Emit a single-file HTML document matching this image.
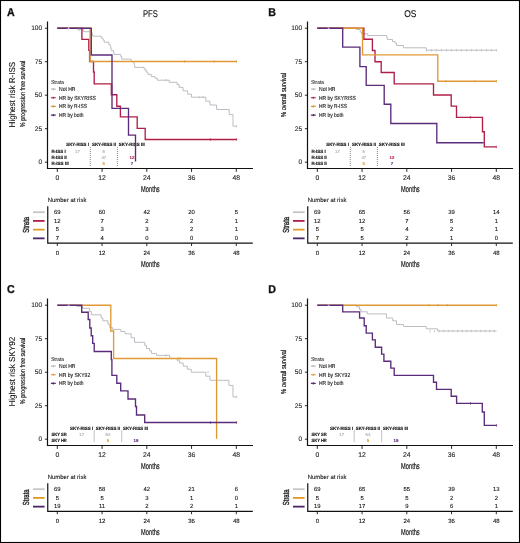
<!DOCTYPE html>
<html><head><meta charset="utf-8"><title>Survival curves</title>
<style>html,body{margin:0;padding:0;background:#fff;}svg{display:block;will-change:transform;}text{font-family:"Liberation Sans", sans-serif;text-rendering:geometricPrecision;}</style>
</head><body>
<svg width="520" height="543" viewBox="0 0 520 543" font-family='"Liberation Sans", sans-serif' fill="#111">
<rect x="0" y="0" width="520" height="543" fill="#fff"/>
<g transform="translate(0,0)">
<text x="7.00" y="16.30" font-size="11.4" text-anchor="start" stroke="#111" stroke-width="0.3" font-weight="bold" textLength="7.7" lengthAdjust="spacingAndGlyphs">A</text>
<text x="150.40" y="16.60" font-size="9.8" text-anchor="middle" stroke="#111" stroke-width="0.1" textLength="14.9" lengthAdjust="spacingAndGlyphs">PFS</text>
<text transform="translate(14.60,94.60) rotate(-90)" font-size="8.6" text-anchor="middle" stroke="#111" stroke-width="0.08" textLength="65.6" lengthAdjust="spacingAndGlyphs">Highest risk R-ISS</text>
<text transform="translate(24.90,94.00) rotate(-90)" font-size="7.0" text-anchor="middle" stroke="#111" stroke-width="0.16" textLength="66.5" lengthAdjust="spacingAndGlyphs">% progression free survival</text>
<path d="M47.5,21.5V169.1M46.9,168.5H253" stroke="#111" stroke-width="1.2" fill="none"/>
<text x="42.20" y="164.10" font-size="6.6" text-anchor="end" stroke="#222" stroke-width="0.1" fill="#222">0</text>
<text x="42.20" y="130.60" font-size="6.6" text-anchor="end" stroke="#222" stroke-width="0.1" fill="#222">25</text>
<text x="42.20" y="97.10" font-size="6.6" text-anchor="end" stroke="#222" stroke-width="0.1" fill="#222">50</text>
<text x="42.20" y="63.60" font-size="6.6" text-anchor="end" stroke="#222" stroke-width="0.1" fill="#222">75</text>
<text x="42.20" y="30.10" font-size="6.6" text-anchor="end" stroke="#222" stroke-width="0.1" fill="#222">100</text>
<text x="57.30" y="180.20" font-size="6.8" text-anchor="middle" stroke="#222" stroke-width="0.1" fill="#222">0</text>
<text x="102.05" y="180.20" font-size="6.8" text-anchor="middle" stroke="#222" stroke-width="0.1" fill="#222">12</text>
<text x="146.80" y="180.20" font-size="6.8" text-anchor="middle" stroke="#222" stroke-width="0.1" fill="#222">24</text>
<text x="191.55" y="180.20" font-size="6.8" text-anchor="middle" stroke="#222" stroke-width="0.1" fill="#222">36</text>
<text x="236.30" y="180.20" font-size="6.8" text-anchor="middle" stroke="#222" stroke-width="0.1" fill="#222">48</text>
<path d="M44.9,162.20H47.5M44.9,128.70H47.5M44.9,95.20H47.5M44.9,61.70H47.5M44.9,28.20H47.5M57.30,168.5V171.9M102.05,168.5V171.9M146.80,168.5V171.9M191.55,168.5V171.9M236.30,168.5V171.9" stroke="#111" stroke-width="0.9" fill="none"/>
<text x="150.40" y="191.70" font-size="8.7" text-anchor="middle" stroke="#111" stroke-width="0.2" textLength="18.6" lengthAdjust="spacingAndGlyphs">Months</text>
<text x="51.10" y="83.60" font-size="5.5" text-anchor="start" stroke="#333" stroke-width="0.1" fill="#333" textLength="12.8" lengthAdjust="spacingAndGlyphs">Strata</text>
<path d="M50.9,89.10H55.8M53.35,88.00V90.20" stroke="#bdbcc3" stroke-width="1.2" fill="none"/>
<text x="59.00" y="91.10" font-size="5.9" text-anchor="start" stroke="#111" stroke-width="0.1" textLength="16.5" lengthAdjust="spacingAndGlyphs">Not HR</text>
<path d="M50.9,97.77H55.8M53.35,96.67V98.87" stroke="#b01f48" stroke-width="1.2" fill="none"/>
<text x="59.00" y="99.77" font-size="5.9" text-anchor="start" stroke="#111" stroke-width="0.1" textLength="36.8" lengthAdjust="spacingAndGlyphs">HR by SKYRISS</text>
<path d="M50.9,106.44H55.8M53.35,105.34V107.54" stroke="#e09a35" stroke-width="1.2" fill="none"/>
<text x="59.00" y="108.44" font-size="5.9" text-anchor="start" stroke="#111" stroke-width="0.1" textLength="28.0" lengthAdjust="spacingAndGlyphs">HR by R-ISS</text>
<path d="M50.9,115.11H55.8M53.35,114.01V116.21" stroke="#5b2c7a" stroke-width="1.2" fill="none"/>
<text x="59.00" y="117.11" font-size="5.9" text-anchor="start" stroke="#111" stroke-width="0.1" textLength="24.6" lengthAdjust="spacingAndGlyphs">HR by both</text>
<text x="66.30" y="145.90" font-size="4.7" text-anchor="start" stroke="#111" stroke-width="0.15" font-weight="bold" textLength="22.6" lengthAdjust="spacingAndGlyphs">SKY-RISS I</text>
<text x="92.00" y="145.90" font-size="4.7" text-anchor="start" stroke="#111" stroke-width="0.15" font-weight="bold" textLength="24.0" lengthAdjust="spacingAndGlyphs">SKY-RISS II</text>
<text x="118.80" y="145.90" font-size="4.7" text-anchor="start" stroke="#111" stroke-width="0.15" font-weight="bold" textLength="25.9" lengthAdjust="spacingAndGlyphs">SKY-RISS III</text>
<text x="51.40" y="152.50" font-size="4.7" text-anchor="start" stroke="#111" stroke-width="0.15" font-weight="bold" textLength="14.4" lengthAdjust="spacingAndGlyphs">R-ISS I</text>
<text x="51.40" y="158.65" font-size="4.7" text-anchor="start" stroke="#111" stroke-width="0.15" font-weight="bold" textLength="15.4" lengthAdjust="spacingAndGlyphs">R-ISS II</text>
<text x="51.40" y="164.80" font-size="4.7" text-anchor="start" stroke="#111" stroke-width="0.15" font-weight="bold" textLength="17.3" lengthAdjust="spacingAndGlyphs">R-ISS III</text>
<text x="77.50" y="152.50" font-size="4.3" text-anchor="middle" stroke="#aaaaaa" stroke-width="0.1" fill="#aaaaaa">17</text>
<text x="103.80" y="152.50" font-size="4.3" text-anchor="middle" stroke="#aaaaaa" stroke-width="0.1" fill="#aaaaaa">5</text>
<text x="103.80" y="158.65" font-size="4.3" text-anchor="middle" stroke="#aaaaaa" stroke-width="0.1" fill="#aaaaaa">47</text>
<text x="103.80" y="164.80" font-size="4.3" text-anchor="middle" stroke="#e09a35" stroke-width="0.1" font-weight="bold" fill="#e09a35">5</text>
<text x="132.00" y="158.65" font-size="4.3" text-anchor="middle" stroke="#b01f48" stroke-width="0.1" font-weight="bold" fill="#b01f48">12</text>
<text x="132.00" y="164.80" font-size="4.3" text-anchor="middle" stroke="#5b2c7a" stroke-width="0.1" font-weight="bold" fill="#5b2c7a">7</text>
<path d="M90.3,147V166.5M117.4,147V166.5" stroke="#444" stroke-width="0.65" stroke-dasharray="1,1" fill="none"/>
<path d="M57.3,28.2H78V29.7H83.4V31.7H92V34H92.7V36.2H101.3V37.7H102.3V38.5H103V40H104.2V42.2H108.7V44.2H110V46.2H110.8V48.5H111.2V50.4H113.5V52.3H114.1V54.5H120.8V56.5H121.7V59.1H131.2V61.5H133.5V62.7H134.2V64.6H134.6V67.4H144.2V69.3H145.8V71.2H147V72.8H148V74.3H151.2V76.6H155V78.2H157.3V80.2H169.2V82.3H177V84.6H179.2V87.4H183V90.8H187.7V94.2H191.5V97.2H205.8V101.2H210V105H216.6V109.5H229.2V114.6H233V126.2H236.6" fill="none" stroke="#bdbcc3" stroke-width="1.0" stroke-linejoin="miter" stroke-linecap="butt"/>
<path d="M57.3,28.2H81.9V39.4H88.8V50.4H89.6V61.5H93.5V72H94.2V83.8H111.5V94.7H116.8V106.2H120.4V116.8H137.2V128.3H145.2V139.5H236.6" fill="none" stroke="#b01f48" stroke-width="1.35" stroke-linejoin="miter" stroke-linecap="butt"/>
<path d="M57.3,28.2H90.1V61.5H236.5" fill="none" stroke="#e09a35" stroke-width="1.35" stroke-linejoin="miter" stroke-linecap="butt"/>
<path d="M57.3,28.2H91.3V55H112V108.3H128.5V135.1H135.5V161.5" fill="none" stroke="#5b2c7a" stroke-width="1.35" stroke-linejoin="miter" stroke-linecap="butt"/>
<path d="M111.5,83.8V94.7" fill="none" stroke="#b01f48" stroke-width="1.35" stroke-linejoin="miter" stroke-linecap="butt"/>
<path d="M68.50,27.00V29.40M79.00,28.50V30.90M166.00,79.00V81.40M199.00,96.00V98.40M203.00,96.00V98.40M236.60,125.00V127.40" fill="none" stroke="#bdbcc3" stroke-width="0.8"/>
<path d="M184.60,60.30V62.70M214.20,60.30V62.70M236.50,60.30V62.70" fill="none" stroke="#e09a35" stroke-width="0.8"/>
<path d="M210.30,138.30V140.70M236.60,138.30V140.70" fill="none" stroke="#b01f48" stroke-width="0.8"/>
<path d="M67.7,28.2H69.5" stroke="#bdbcc3" stroke-width="1.35" fill="none"/>
<text x="47.75" y="202.30" font-size="6.1" text-anchor="start" stroke="#111" stroke-width="0.1" textLength="38.6" lengthAdjust="spacingAndGlyphs">Number at risk</text>
<path d="M47.75,206.3V243.80M47.15,243.20H252.8" stroke="#111" stroke-width="1.2" fill="none"/>
<text x="57.30" y="254.80" font-size="6.0" text-anchor="middle" stroke="#111" stroke-width="0.1">0</text>
<text x="102.05" y="254.80" font-size="6.0" text-anchor="middle" stroke="#111" stroke-width="0.1">12</text>
<text x="146.80" y="254.80" font-size="6.0" text-anchor="middle" stroke="#111" stroke-width="0.1">24</text>
<text x="191.55" y="254.80" font-size="6.0" text-anchor="middle" stroke="#111" stroke-width="0.1">36</text>
<text x="236.30" y="254.80" font-size="6.0" text-anchor="middle" stroke="#111" stroke-width="0.1">48</text>
<path d="M57.30,243.20V246.00M102.05,243.20V246.00M146.80,243.20V246.00M191.55,243.20V246.00M236.30,243.20V246.00" stroke="#111" stroke-width="0.9" fill="none"/>
<text x="150.40" y="266.50" font-size="8.7" text-anchor="middle" stroke="#111" stroke-width="0.2" textLength="18.6" lengthAdjust="spacingAndGlyphs">Months</text>
<path d="M33,212.20H44.6" stroke="#c6c5cc" stroke-width="1.8" fill="none"/>
<text x="57.30" y="213.90" font-size="5.9" text-anchor="middle" stroke="#111" stroke-width="0.1">69</text>
<text x="102.05" y="213.90" font-size="5.9" text-anchor="middle" stroke="#111" stroke-width="0.1">60</text>
<text x="146.80" y="213.90" font-size="5.9" text-anchor="middle" stroke="#111" stroke-width="0.1">42</text>
<text x="191.55" y="213.90" font-size="5.9" text-anchor="middle" stroke="#111" stroke-width="0.1">20</text>
<text x="236.30" y="213.90" font-size="5.9" text-anchor="middle" stroke="#111" stroke-width="0.1">5</text>
<path d="M33,220.92H44.6" stroke="#b0214a" stroke-width="1.8" fill="none"/>
<text x="57.30" y="222.62" font-size="5.9" text-anchor="middle" stroke="#111" stroke-width="0.1">12</text>
<text x="102.05" y="222.62" font-size="5.9" text-anchor="middle" stroke="#111" stroke-width="0.1">7</text>
<text x="146.80" y="222.62" font-size="5.9" text-anchor="middle" stroke="#111" stroke-width="0.1">2</text>
<text x="191.55" y="222.62" font-size="5.9" text-anchor="middle" stroke="#111" stroke-width="0.1">2</text>
<text x="236.30" y="222.62" font-size="5.9" text-anchor="middle" stroke="#111" stroke-width="0.1">1</text>
<path d="M33,229.64H44.6" stroke="#e39a22" stroke-width="1.8" fill="none"/>
<text x="57.30" y="231.34" font-size="5.9" text-anchor="middle" stroke="#111" stroke-width="0.1">5</text>
<text x="102.05" y="231.34" font-size="5.9" text-anchor="middle" stroke="#111" stroke-width="0.1">3</text>
<text x="146.80" y="231.34" font-size="5.9" text-anchor="middle" stroke="#111" stroke-width="0.1">3</text>
<text x="191.55" y="231.34" font-size="5.9" text-anchor="middle" stroke="#111" stroke-width="0.1">2</text>
<text x="236.30" y="231.34" font-size="5.9" text-anchor="middle" stroke="#111" stroke-width="0.1">1</text>
<path d="M33,238.36H44.6" stroke="#4e2468" stroke-width="1.8" fill="none"/>
<text x="57.30" y="240.06" font-size="5.9" text-anchor="middle" stroke="#111" stroke-width="0.1">7</text>
<text x="102.05" y="240.06" font-size="5.9" text-anchor="middle" stroke="#111" stroke-width="0.1">4</text>
<text x="146.80" y="240.06" font-size="5.9" text-anchor="middle" stroke="#111" stroke-width="0.1">0</text>
<text x="191.55" y="240.06" font-size="5.9" text-anchor="middle" stroke="#111" stroke-width="0.1">0</text>
<text x="236.30" y="240.06" font-size="5.9" text-anchor="middle" stroke="#111" stroke-width="0.1">0</text>
<text transform="translate(28.50,224.80) rotate(-90)" font-size="8.8" text-anchor="middle" stroke="#111" stroke-width="0.3" textLength="15.8" lengthAdjust="spacingAndGlyphs">Strata</text>
</g>
<g transform="translate(260,0)">
<text x="8.30" y="16.00" font-size="11.4" text-anchor="start" stroke="#111" stroke-width="0.3" font-weight="bold" textLength="7.7" lengthAdjust="spacingAndGlyphs">B</text>
<text x="150.40" y="16.60" font-size="9.8" text-anchor="middle" stroke="#111" stroke-width="0.1" textLength="12.3" lengthAdjust="spacingAndGlyphs">OS</text>
<text transform="translate(26.00,94.90) rotate(-90)" font-size="7.2" text-anchor="middle" stroke="#111" stroke-width="0.2" textLength="44.2" lengthAdjust="spacingAndGlyphs">% overall survival</text>
<path d="M47.5,21.5V169.1M46.9,168.5H253" stroke="#111" stroke-width="1.2" fill="none"/>
<text x="42.20" y="164.10" font-size="6.6" text-anchor="end" stroke="#222" stroke-width="0.1" fill="#222">0</text>
<text x="42.20" y="130.60" font-size="6.6" text-anchor="end" stroke="#222" stroke-width="0.1" fill="#222">25</text>
<text x="42.20" y="97.10" font-size="6.6" text-anchor="end" stroke="#222" stroke-width="0.1" fill="#222">50</text>
<text x="42.20" y="63.60" font-size="6.6" text-anchor="end" stroke="#222" stroke-width="0.1" fill="#222">75</text>
<text x="42.20" y="30.10" font-size="6.6" text-anchor="end" stroke="#222" stroke-width="0.1" fill="#222">100</text>
<text x="57.30" y="180.20" font-size="6.8" text-anchor="middle" stroke="#222" stroke-width="0.1" fill="#222">0</text>
<text x="102.05" y="180.20" font-size="6.8" text-anchor="middle" stroke="#222" stroke-width="0.1" fill="#222">12</text>
<text x="146.80" y="180.20" font-size="6.8" text-anchor="middle" stroke="#222" stroke-width="0.1" fill="#222">24</text>
<text x="191.55" y="180.20" font-size="6.8" text-anchor="middle" stroke="#222" stroke-width="0.1" fill="#222">36</text>
<text x="236.30" y="180.20" font-size="6.8" text-anchor="middle" stroke="#222" stroke-width="0.1" fill="#222">48</text>
<path d="M44.9,162.20H47.5M44.9,128.70H47.5M44.9,95.20H47.5M44.9,61.70H47.5M44.9,28.20H47.5M57.30,168.5V171.9M102.05,168.5V171.9M146.80,168.5V171.9M191.55,168.5V171.9M236.30,168.5V171.9" stroke="#111" stroke-width="0.9" fill="none"/>
<text x="150.40" y="191.70" font-size="8.7" text-anchor="middle" stroke="#111" stroke-width="0.2" textLength="18.6" lengthAdjust="spacingAndGlyphs">Months</text>
<text x="51.10" y="83.60" font-size="5.5" text-anchor="start" stroke="#333" stroke-width="0.1" fill="#333" textLength="12.8" lengthAdjust="spacingAndGlyphs">Strata</text>
<path d="M50.9,89.10H55.8M53.35,88.00V90.20" stroke="#bdbcc3" stroke-width="1.2" fill="none"/>
<text x="59.00" y="91.10" font-size="5.9" text-anchor="start" stroke="#111" stroke-width="0.1" textLength="16.5" lengthAdjust="spacingAndGlyphs">Not HR</text>
<path d="M50.9,97.77H55.8M53.35,96.67V98.87" stroke="#b01f48" stroke-width="1.2" fill="none"/>
<text x="59.00" y="99.77" font-size="5.9" text-anchor="start" stroke="#111" stroke-width="0.1" textLength="36.8" lengthAdjust="spacingAndGlyphs">HR by SKYRISS</text>
<path d="M50.9,106.44H55.8M53.35,105.34V107.54" stroke="#e09a35" stroke-width="1.2" fill="none"/>
<text x="59.00" y="108.44" font-size="5.9" text-anchor="start" stroke="#111" stroke-width="0.1" textLength="28.0" lengthAdjust="spacingAndGlyphs">HR by R-ISS</text>
<path d="M50.9,115.11H55.8M53.35,114.01V116.21" stroke="#5b2c7a" stroke-width="1.2" fill="none"/>
<text x="59.00" y="117.11" font-size="5.9" text-anchor="start" stroke="#111" stroke-width="0.1" textLength="24.6" lengthAdjust="spacingAndGlyphs">HR by both</text>
<text x="66.30" y="145.90" font-size="4.7" text-anchor="start" stroke="#111" stroke-width="0.15" font-weight="bold" textLength="22.6" lengthAdjust="spacingAndGlyphs">SKY-RISS I</text>
<text x="92.00" y="145.90" font-size="4.7" text-anchor="start" stroke="#111" stroke-width="0.15" font-weight="bold" textLength="24.0" lengthAdjust="spacingAndGlyphs">SKY-RISS II</text>
<text x="118.80" y="145.90" font-size="4.7" text-anchor="start" stroke="#111" stroke-width="0.15" font-weight="bold" textLength="25.9" lengthAdjust="spacingAndGlyphs">SKY-RISS III</text>
<text x="51.40" y="152.50" font-size="4.7" text-anchor="start" stroke="#111" stroke-width="0.15" font-weight="bold" textLength="14.4" lengthAdjust="spacingAndGlyphs">R-ISS I</text>
<text x="51.40" y="158.65" font-size="4.7" text-anchor="start" stroke="#111" stroke-width="0.15" font-weight="bold" textLength="15.4" lengthAdjust="spacingAndGlyphs">R-ISS II</text>
<text x="51.40" y="164.80" font-size="4.7" text-anchor="start" stroke="#111" stroke-width="0.15" font-weight="bold" textLength="15.4" lengthAdjust="spacingAndGlyphs">R-ISS II</text>
<text x="77.50" y="152.50" font-size="4.3" text-anchor="middle" stroke="#aaaaaa" stroke-width="0.1" fill="#aaaaaa">17</text>
<text x="103.80" y="152.50" font-size="4.3" text-anchor="middle" stroke="#aaaaaa" stroke-width="0.1" fill="#aaaaaa">5</text>
<text x="103.80" y="158.65" font-size="4.3" text-anchor="middle" stroke="#aaaaaa" stroke-width="0.1" fill="#aaaaaa">47</text>
<text x="103.80" y="164.80" font-size="4.3" text-anchor="middle" stroke="#e09a35" stroke-width="0.1" font-weight="bold" fill="#e09a35">5</text>
<text x="132.00" y="158.65" font-size="4.3" text-anchor="middle" stroke="#b01f48" stroke-width="0.1" font-weight="bold" fill="#b01f48">12</text>
<text x="132.00" y="164.80" font-size="4.3" text-anchor="middle" stroke="#5b2c7a" stroke-width="0.1" font-weight="bold" fill="#5b2c7a">7</text>
<path d="M90.3,147V166.5M117.4,147V166.5" stroke="#444" stroke-width="0.65" stroke-dasharray="1,1" fill="none"/>
<path d="M57.3,28.2H96.2V29.5H100.2V32H101.5V33.8H107.7V35.5H126.7V37.5H127.3V39.5H132.5V41.5H135V43H136.5V45.5H143.5V47.8H166.2V50.2H236.5" fill="none" stroke="#bdbcc3" stroke-width="1.0" stroke-linejoin="miter" stroke-linecap="butt"/>
<path d="M57.3,28.2H103.9V39.2H112.4V50.5H115V61.7H121.2V72.5H134.2V83.8H173.5V95H191.2V106.1H196.5V117.3H222.5V131.7H224.3V146.9H236.3" fill="none" stroke="#b01f48" stroke-width="1.35" stroke-linejoin="miter" stroke-linecap="butt"/>
<path d="M57.3,28.2H102.5V54.8H177.8V81.2H236.5" fill="none" stroke="#e09a35" stroke-width="1.35" stroke-linejoin="miter" stroke-linecap="butt"/>
<path d="M57.3,28.2H82.7V47.1H99.9V66.6H106.2V85.3H124.2V104.2H130.8V123.5H176.8V142.7H223.7" fill="none" stroke="#5b2c7a" stroke-width="1.35" stroke-linejoin="miter" stroke-linecap="butt"/>
<path d="M166.50,49.00V51.40M171.50,49.00V51.40M176.50,49.00V51.40M181.50,49.00V51.40M186.50,49.00V51.40M191.50,49.00V51.40M196.50,49.00V51.40M201.50,49.00V51.40M206.50,49.00V51.40M211.50,49.00V51.40M216.50,49.00V51.40M221.50,49.00V51.40M226.50,49.00V51.40M231.50,49.00V51.40M236.50,49.00V51.40" fill="none" stroke="#bdbcc3" stroke-width="0.8"/>
<path d="M185.80,80.00V82.40M214.70,80.00V82.40M236.50,80.00V82.40" fill="none" stroke="#e09a35" stroke-width="0.8"/>
<path d="M210.40,116.10V118.50M236.30,145.70V148.10" fill="none" stroke="#b01f48" stroke-width="0.8"/>
<path d="M67.7,28.2H69.5" stroke="#bdbcc3" stroke-width="1.35" fill="none"/>
<text x="47.75" y="202.30" font-size="6.1" text-anchor="start" stroke="#111" stroke-width="0.1" textLength="38.6" lengthAdjust="spacingAndGlyphs">Number at risk</text>
<path d="M47.75,206.3V243.80M47.15,243.20H252.8" stroke="#111" stroke-width="1.2" fill="none"/>
<text x="57.30" y="254.80" font-size="6.0" text-anchor="middle" stroke="#111" stroke-width="0.1">0</text>
<text x="102.05" y="254.80" font-size="6.0" text-anchor="middle" stroke="#111" stroke-width="0.1">12</text>
<text x="146.80" y="254.80" font-size="6.0" text-anchor="middle" stroke="#111" stroke-width="0.1">24</text>
<text x="191.55" y="254.80" font-size="6.0" text-anchor="middle" stroke="#111" stroke-width="0.1">36</text>
<text x="236.30" y="254.80" font-size="6.0" text-anchor="middle" stroke="#111" stroke-width="0.1">48</text>
<path d="M57.30,243.20V246.00M102.05,243.20V246.00M146.80,243.20V246.00M191.55,243.20V246.00M236.30,243.20V246.00" stroke="#111" stroke-width="0.9" fill="none"/>
<text x="150.40" y="266.50" font-size="8.7" text-anchor="middle" stroke="#111" stroke-width="0.2" textLength="18.6" lengthAdjust="spacingAndGlyphs">Months</text>
<path d="M33,212.20H44.6" stroke="#c6c5cc" stroke-width="1.8" fill="none"/>
<text x="57.30" y="213.90" font-size="5.9" text-anchor="middle" stroke="#111" stroke-width="0.1">69</text>
<text x="102.05" y="213.90" font-size="5.9" text-anchor="middle" stroke="#111" stroke-width="0.1">65</text>
<text x="146.80" y="213.90" font-size="5.9" text-anchor="middle" stroke="#111" stroke-width="0.1">56</text>
<text x="191.55" y="213.90" font-size="5.9" text-anchor="middle" stroke="#111" stroke-width="0.1">39</text>
<text x="236.30" y="213.90" font-size="5.9" text-anchor="middle" stroke="#111" stroke-width="0.1">14</text>
<path d="M33,220.92H44.6" stroke="#b0214a" stroke-width="1.8" fill="none"/>
<text x="57.30" y="222.62" font-size="5.9" text-anchor="middle" stroke="#111" stroke-width="0.1">12</text>
<text x="102.05" y="222.62" font-size="5.9" text-anchor="middle" stroke="#111" stroke-width="0.1">12</text>
<text x="146.80" y="222.62" font-size="5.9" text-anchor="middle" stroke="#111" stroke-width="0.1">7</text>
<text x="191.55" y="222.62" font-size="5.9" text-anchor="middle" stroke="#111" stroke-width="0.1">5</text>
<text x="236.30" y="222.62" font-size="5.9" text-anchor="middle" stroke="#111" stroke-width="0.1">1</text>
<path d="M33,229.64H44.6" stroke="#e39a22" stroke-width="1.8" fill="none"/>
<text x="57.30" y="231.34" font-size="5.9" text-anchor="middle" stroke="#111" stroke-width="0.1">5</text>
<text x="102.05" y="231.34" font-size="5.9" text-anchor="middle" stroke="#111" stroke-width="0.1">5</text>
<text x="146.80" y="231.34" font-size="5.9" text-anchor="middle" stroke="#111" stroke-width="0.1">4</text>
<text x="191.55" y="231.34" font-size="5.9" text-anchor="middle" stroke="#111" stroke-width="0.1">2</text>
<text x="236.30" y="231.34" font-size="5.9" text-anchor="middle" stroke="#111" stroke-width="0.1">1</text>
<path d="M33,238.36H44.6" stroke="#4e2468" stroke-width="1.8" fill="none"/>
<text x="57.30" y="240.06" font-size="5.9" text-anchor="middle" stroke="#111" stroke-width="0.1">7</text>
<text x="102.05" y="240.06" font-size="5.9" text-anchor="middle" stroke="#111" stroke-width="0.1">5</text>
<text x="146.80" y="240.06" font-size="5.9" text-anchor="middle" stroke="#111" stroke-width="0.1">2</text>
<text x="191.55" y="240.06" font-size="5.9" text-anchor="middle" stroke="#111" stroke-width="0.1">1</text>
<text x="236.30" y="240.06" font-size="5.9" text-anchor="middle" stroke="#111" stroke-width="0.1">0</text>
<text transform="translate(28.50,224.80) rotate(-90)" font-size="8.8" text-anchor="middle" stroke="#111" stroke-width="0.3" textLength="15.8" lengthAdjust="spacingAndGlyphs">Strata</text>
</g>
<g transform="translate(0,277)">
<text x="7.00" y="16.30" font-size="11.4" text-anchor="start" stroke="#111" stroke-width="0.3" font-weight="bold" textLength="7.7" lengthAdjust="spacingAndGlyphs">C</text>
<text transform="translate(14.60,94.60) rotate(-90)" font-size="8.6" text-anchor="middle" stroke="#111" stroke-width="0.08" textLength="70" lengthAdjust="spacingAndGlyphs">Highest risk SKY92</text>
<text transform="translate(24.90,94.00) rotate(-90)" font-size="7.0" text-anchor="middle" stroke="#111" stroke-width="0.16" textLength="66.5" lengthAdjust="spacingAndGlyphs">% progression free survival</text>
<path d="M47.5,21.5V169.1M46.9,168.5H253" stroke="#111" stroke-width="1.2" fill="none"/>
<text x="42.20" y="164.10" font-size="6.6" text-anchor="end" stroke="#222" stroke-width="0.1" fill="#222">0</text>
<text x="42.20" y="130.60" font-size="6.6" text-anchor="end" stroke="#222" stroke-width="0.1" fill="#222">25</text>
<text x="42.20" y="97.10" font-size="6.6" text-anchor="end" stroke="#222" stroke-width="0.1" fill="#222">50</text>
<text x="42.20" y="63.60" font-size="6.6" text-anchor="end" stroke="#222" stroke-width="0.1" fill="#222">75</text>
<text x="42.20" y="30.10" font-size="6.6" text-anchor="end" stroke="#222" stroke-width="0.1" fill="#222">100</text>
<text x="57.30" y="180.20" font-size="6.8" text-anchor="middle" stroke="#222" stroke-width="0.1" fill="#222">0</text>
<text x="102.05" y="180.20" font-size="6.8" text-anchor="middle" stroke="#222" stroke-width="0.1" fill="#222">12</text>
<text x="146.80" y="180.20" font-size="6.8" text-anchor="middle" stroke="#222" stroke-width="0.1" fill="#222">24</text>
<text x="191.55" y="180.20" font-size="6.8" text-anchor="middle" stroke="#222" stroke-width="0.1" fill="#222">36</text>
<text x="236.30" y="180.20" font-size="6.8" text-anchor="middle" stroke="#222" stroke-width="0.1" fill="#222">48</text>
<path d="M44.9,162.20H47.5M44.9,128.70H47.5M44.9,95.20H47.5M44.9,61.70H47.5M44.9,28.20H47.5M57.30,168.5V171.9M102.05,168.5V171.9M146.80,168.5V171.9M191.55,168.5V171.9M236.30,168.5V171.9" stroke="#111" stroke-width="0.9" fill="none"/>
<text x="150.40" y="191.70" font-size="8.7" text-anchor="middle" stroke="#111" stroke-width="0.2" textLength="18.6" lengthAdjust="spacingAndGlyphs">Months</text>
<text x="51.10" y="83.60" font-size="5.5" text-anchor="start" stroke="#333" stroke-width="0.1" fill="#333" textLength="12.8" lengthAdjust="spacingAndGlyphs">Strata</text>
<path d="M50.9,89.10H55.8M53.35,88.00V90.20" stroke="#bdbcc3" stroke-width="1.2" fill="none"/>
<text x="59.00" y="91.10" font-size="5.9" text-anchor="start" stroke="#111" stroke-width="0.1" textLength="16.5" lengthAdjust="spacingAndGlyphs">Not HR</text>
<path d="M50.9,97.77H55.8M53.35,96.67V98.87" stroke="#e09a35" stroke-width="1.2" fill="none"/>
<text x="59.00" y="99.77" font-size="5.9" text-anchor="start" stroke="#111" stroke-width="0.1" textLength="31.2" lengthAdjust="spacingAndGlyphs">HR by SKY92</text>
<path d="M50.9,106.44H55.8M53.35,105.34V107.54" stroke="#5b2c7a" stroke-width="1.2" fill="none"/>
<text x="59.00" y="108.44" font-size="5.9" text-anchor="start" stroke="#111" stroke-width="0.1" textLength="24.6" lengthAdjust="spacingAndGlyphs">HR by both</text>
<text x="70.10" y="152.60" font-size="4.7" text-anchor="start" stroke="#111" stroke-width="0.15" font-weight="bold" textLength="23.1" lengthAdjust="spacingAndGlyphs">SKY-RISS I</text>
<text x="95.70" y="152.60" font-size="4.7" text-anchor="start" stroke="#111" stroke-width="0.15" font-weight="bold" textLength="24.4" lengthAdjust="spacingAndGlyphs">SKY-RISS II</text>
<text x="123.00" y="152.60" font-size="4.7" text-anchor="start" stroke="#111" stroke-width="0.15" font-weight="bold" textLength="25.0" lengthAdjust="spacingAndGlyphs">SKY-RISS III</text>
<text x="51.50" y="158.70" font-size="4.7" text-anchor="start" stroke="#111" stroke-width="0.15" font-weight="bold" textLength="15.3" lengthAdjust="spacingAndGlyphs">SKY SR</text>
<text x="51.50" y="164.50" font-size="4.7" text-anchor="start" stroke="#111" stroke-width="0.15" font-weight="bold" textLength="15.3" lengthAdjust="spacingAndGlyphs">SKY HR</text>
<text x="81.70" y="158.70" font-size="4.3" text-anchor="middle" stroke="#aaaaaa" stroke-width="0.1" fill="#aaaaaa">17</text>
<text x="108.00" y="158.70" font-size="4.3" text-anchor="middle" stroke="#aaaaaa" stroke-width="0.1" fill="#aaaaaa">53</text>
<text x="108.00" y="164.50" font-size="4.3" text-anchor="middle" stroke="#e09a35" stroke-width="0.1" font-weight="bold" fill="#e09a35">5</text>
<text x="136.00" y="164.50" font-size="4.3" text-anchor="middle" stroke="#5b2c7a" stroke-width="0.1" font-weight="bold" fill="#5b2c7a">19</text>
<path d="M94.2,153.6V165.2M121.7,153.6V165.2" stroke="#444" stroke-width="0.65" stroke-dasharray="1,1" fill="none"/>
<path d="M57.3,28.2H77V29.5H82.7V31.3H89.6V34.5H91.3V37.8H101.2V40.9H102.9V43.8H108V47.2H109.8V50.7H112.7V52.4H120.8V54.5H125V56.8H131.2V60.7H134.5V65.3H144.7V68.4H146.5V71.5H149.6V73.8H151.5V76.4H156.5V78.4H169.6V81.5H177.3V83.8H179.6V86H183.2V89.2H187.3V92.2H191.2V95.2H205.8V99.2H210V103.3H228.9V108.4H233V119.9H236.6" fill="none" stroke="#bdbcc3" stroke-width="1.0" stroke-linejoin="miter" stroke-linecap="butt"/>
<path d="M57.3,28.2H110.8V54H113.6V81.5H216.6V161.8" fill="none" stroke="#e09a35" stroke-width="1.35" stroke-linejoin="miter" stroke-linecap="butt"/>
<path d="M57.3,28.2H81.7V35.2H88.2V42.5H89.8V51H91.2V58.7H92.7V66.4H94.2V74.5H111.3V82.6H111.9V98.3H116.8V106.2H120.7V113.8H128V122H135.5V129.5H136.5V138H144.7V145.5H236.6" fill="none" stroke="#5b2c7a" stroke-width="1.35" stroke-linejoin="miter" stroke-linecap="butt"/>
<path d="M166.00,77.20V79.60M171.50,80.30V82.70M208.00,94.00V96.40M236.60,118.70V121.10" fill="none" stroke="#bdbcc3" stroke-width="0.8"/>
<path d="M178.00,80.30V82.70M180.00,80.30V82.70" fill="none" stroke="#e09a35" stroke-width="0.8"/>
<path d="M210.30,144.30V146.70M236.60,144.30V146.70" fill="none" stroke="#5b2c7a" stroke-width="0.8"/>
<path d="M67.7,28.2H69.5" stroke="#bdbcc3" stroke-width="1.35" fill="none"/>
<text x="47.75" y="202.30" font-size="6.1" text-anchor="start" stroke="#111" stroke-width="0.1" textLength="38.6" lengthAdjust="spacingAndGlyphs">Number at risk</text>
<path d="M47.75,206.3V235.00M47.15,234.40H252.8" stroke="#111" stroke-width="1.2" fill="none"/>
<text x="57.30" y="246.00" font-size="6.0" text-anchor="middle" stroke="#111" stroke-width="0.1">0</text>
<text x="102.05" y="246.00" font-size="6.0" text-anchor="middle" stroke="#111" stroke-width="0.1">12</text>
<text x="146.80" y="246.00" font-size="6.0" text-anchor="middle" stroke="#111" stroke-width="0.1">24</text>
<text x="191.55" y="246.00" font-size="6.0" text-anchor="middle" stroke="#111" stroke-width="0.1">36</text>
<text x="236.30" y="246.00" font-size="6.0" text-anchor="middle" stroke="#111" stroke-width="0.1">48</text>
<path d="M57.30,234.40V237.20M102.05,234.40V237.20M146.80,234.40V237.20M191.55,234.40V237.20M236.30,234.40V237.20" stroke="#111" stroke-width="0.9" fill="none"/>
<text x="150.40" y="257.70" font-size="8.7" text-anchor="middle" stroke="#111" stroke-width="0.2" textLength="18.6" lengthAdjust="spacingAndGlyphs">Months</text>
<path d="M33,212.20H44.6" stroke="#c6c5cc" stroke-width="1.8" fill="none"/>
<text x="57.30" y="213.90" font-size="5.9" text-anchor="middle" stroke="#111" stroke-width="0.1">69</text>
<text x="102.05" y="213.90" font-size="5.9" text-anchor="middle" stroke="#111" stroke-width="0.1">58</text>
<text x="146.80" y="213.90" font-size="5.9" text-anchor="middle" stroke="#111" stroke-width="0.1">42</text>
<text x="191.55" y="213.90" font-size="5.9" text-anchor="middle" stroke="#111" stroke-width="0.1">21</text>
<text x="236.30" y="213.90" font-size="5.9" text-anchor="middle" stroke="#111" stroke-width="0.1">6</text>
<path d="M33,220.92H44.6" stroke="#e39a22" stroke-width="1.8" fill="none"/>
<text x="57.30" y="222.62" font-size="5.9" text-anchor="middle" stroke="#111" stroke-width="0.1">5</text>
<text x="102.05" y="222.62" font-size="5.9" text-anchor="middle" stroke="#111" stroke-width="0.1">5</text>
<text x="146.80" y="222.62" font-size="5.9" text-anchor="middle" stroke="#111" stroke-width="0.1">3</text>
<text x="191.55" y="222.62" font-size="5.9" text-anchor="middle" stroke="#111" stroke-width="0.1">1</text>
<text x="236.30" y="222.62" font-size="5.9" text-anchor="middle" stroke="#111" stroke-width="0.1">0</text>
<path d="M33,229.64H44.6" stroke="#4e2468" stroke-width="1.8" fill="none"/>
<text x="57.30" y="231.34" font-size="5.9" text-anchor="middle" stroke="#111" stroke-width="0.1">19</text>
<text x="102.05" y="231.34" font-size="5.9" text-anchor="middle" stroke="#111" stroke-width="0.1">11</text>
<text x="146.80" y="231.34" font-size="5.9" text-anchor="middle" stroke="#111" stroke-width="0.1">2</text>
<text x="191.55" y="231.34" font-size="5.9" text-anchor="middle" stroke="#111" stroke-width="0.1">2</text>
<text x="236.30" y="231.34" font-size="5.9" text-anchor="middle" stroke="#111" stroke-width="0.1">1</text>
<text transform="translate(28.50,220.30) rotate(-90)" font-size="8.8" text-anchor="middle" stroke="#111" stroke-width="0.3" textLength="15.8" lengthAdjust="spacingAndGlyphs">Strata</text>
</g>
<g transform="translate(260,277)">
<text x="8.30" y="16.00" font-size="11.4" text-anchor="start" stroke="#111" stroke-width="0.3" font-weight="bold" textLength="7.7" lengthAdjust="spacingAndGlyphs">D</text>
<text transform="translate(26.00,94.90) rotate(-90)" font-size="7.2" text-anchor="middle" stroke="#111" stroke-width="0.2" textLength="44.2" lengthAdjust="spacingAndGlyphs">% overall survival</text>
<path d="M47.5,21.5V169.1M46.9,168.5H253" stroke="#111" stroke-width="1.2" fill="none"/>
<text x="42.20" y="164.10" font-size="6.6" text-anchor="end" stroke="#222" stroke-width="0.1" fill="#222">0</text>
<text x="42.20" y="130.60" font-size="6.6" text-anchor="end" stroke="#222" stroke-width="0.1" fill="#222">25</text>
<text x="42.20" y="97.10" font-size="6.6" text-anchor="end" stroke="#222" stroke-width="0.1" fill="#222">50</text>
<text x="42.20" y="63.60" font-size="6.6" text-anchor="end" stroke="#222" stroke-width="0.1" fill="#222">75</text>
<text x="42.20" y="30.10" font-size="6.6" text-anchor="end" stroke="#222" stroke-width="0.1" fill="#222">100</text>
<text x="57.30" y="180.20" font-size="6.8" text-anchor="middle" stroke="#222" stroke-width="0.1" fill="#222">0</text>
<text x="102.05" y="180.20" font-size="6.8" text-anchor="middle" stroke="#222" stroke-width="0.1" fill="#222">12</text>
<text x="146.80" y="180.20" font-size="6.8" text-anchor="middle" stroke="#222" stroke-width="0.1" fill="#222">24</text>
<text x="191.55" y="180.20" font-size="6.8" text-anchor="middle" stroke="#222" stroke-width="0.1" fill="#222">36</text>
<text x="236.30" y="180.20" font-size="6.8" text-anchor="middle" stroke="#222" stroke-width="0.1" fill="#222">48</text>
<path d="M44.9,162.20H47.5M44.9,128.70H47.5M44.9,95.20H47.5M44.9,61.70H47.5M44.9,28.20H47.5M57.30,168.5V171.9M102.05,168.5V171.9M146.80,168.5V171.9M191.55,168.5V171.9M236.30,168.5V171.9" stroke="#111" stroke-width="0.9" fill="none"/>
<text x="150.40" y="191.70" font-size="8.7" text-anchor="middle" stroke="#111" stroke-width="0.2" textLength="18.6" lengthAdjust="spacingAndGlyphs">Months</text>
<text x="51.10" y="83.60" font-size="5.5" text-anchor="start" stroke="#333" stroke-width="0.1" fill="#333" textLength="12.8" lengthAdjust="spacingAndGlyphs">Strata</text>
<path d="M50.9,89.10H55.8M53.35,88.00V90.20" stroke="#bdbcc3" stroke-width="1.2" fill="none"/>
<text x="59.00" y="91.10" font-size="5.9" text-anchor="start" stroke="#111" stroke-width="0.1" textLength="16.5" lengthAdjust="spacingAndGlyphs">Not HR</text>
<path d="M50.9,97.77H55.8M53.35,96.67V98.87" stroke="#e09a35" stroke-width="1.2" fill="none"/>
<text x="59.00" y="99.77" font-size="5.9" text-anchor="start" stroke="#111" stroke-width="0.1" textLength="31.2" lengthAdjust="spacingAndGlyphs">HR by SKY92</text>
<path d="M50.9,106.44H55.8M53.35,105.34V107.54" stroke="#5b2c7a" stroke-width="1.2" fill="none"/>
<text x="59.00" y="108.44" font-size="5.9" text-anchor="start" stroke="#111" stroke-width="0.1" textLength="24.6" lengthAdjust="spacingAndGlyphs">HR by both</text>
<text x="70.10" y="152.60" font-size="4.7" text-anchor="start" stroke="#111" stroke-width="0.15" font-weight="bold" textLength="23.1" lengthAdjust="spacingAndGlyphs">SKY-RISS I</text>
<text x="95.70" y="152.60" font-size="4.7" text-anchor="start" stroke="#111" stroke-width="0.15" font-weight="bold" textLength="24.4" lengthAdjust="spacingAndGlyphs">SKY-RISS II</text>
<text x="123.00" y="152.60" font-size="4.7" text-anchor="start" stroke="#111" stroke-width="0.15" font-weight="bold" textLength="25.0" lengthAdjust="spacingAndGlyphs">SKY-RISS III</text>
<text x="51.50" y="158.70" font-size="4.7" text-anchor="start" stroke="#111" stroke-width="0.15" font-weight="bold" textLength="15.3" lengthAdjust="spacingAndGlyphs">SKY SR</text>
<text x="51.50" y="164.50" font-size="4.7" text-anchor="start" stroke="#111" stroke-width="0.15" font-weight="bold" textLength="15.3" lengthAdjust="spacingAndGlyphs">SKY HR</text>
<text x="81.70" y="158.70" font-size="4.3" text-anchor="middle" stroke="#aaaaaa" stroke-width="0.1" fill="#aaaaaa">17</text>
<text x="108.00" y="158.70" font-size="4.3" text-anchor="middle" stroke="#aaaaaa" stroke-width="0.1" fill="#aaaaaa">53</text>
<text x="108.00" y="164.50" font-size="4.3" text-anchor="middle" stroke="#e09a35" stroke-width="0.1" font-weight="bold" fill="#e09a35">5</text>
<text x="136.00" y="164.50" font-size="4.3" text-anchor="middle" stroke="#5b2c7a" stroke-width="0.1" font-weight="bold" fill="#5b2c7a">19</text>
<path d="M94.2,153.6V165.2M121.7,153.6V165.2" stroke="#444" stroke-width="0.65" stroke-dasharray="1,1" fill="none"/>
<path d="M57.3,28.2H96.5V29.8H99.5V32.5H101V34.8H107.3V36.9H126.5V41H132.7V43.8H136.5V47.5H143.5V49.5H166.2V51.8H177.6V54H236.6" fill="none" stroke="#bdbcc3" stroke-width="1.0" stroke-linejoin="miter" stroke-linecap="butt"/>
<path d="M57.3,28.2H236.6" fill="none" stroke="#e09a35" stroke-width="1.35" stroke-linejoin="miter" stroke-linecap="butt"/>
<path d="M57.3,28.2H82.7V34.8H99.6V41H104.2V48.7H106.2V56.1H112.4V62.8H115.3V70.2H121.6V77.1H123.9V84.2H130.8V91.1H134.2V98.3H173.5V105.2H176.5V112.3H191.2V119.2H196.6V126.4H222.3V135H224.3V148.4H236.6" fill="none" stroke="#5b2c7a" stroke-width="1.35" stroke-linejoin="miter" stroke-linecap="butt"/>
<path d="M170.00,52.80V55.20M174.60,52.80V55.20M179.20,52.80V55.20M183.80,52.80V55.20M188.40,52.80V55.20M193.00,52.80V55.20M197.60,52.80V55.20M202.20,52.80V55.20M206.80,52.80V55.20M211.40,52.80V55.20M216.00,52.80V55.20M220.60,52.80V55.20M225.20,52.80V55.20M229.80,52.80V55.20M234.40,52.80V55.20" fill="none" stroke="#bdbcc3" stroke-width="0.8"/>
<path d="M168.80,27.00V29.40M178.00,27.00V29.40M187.30,27.00V29.40M236.60,27.00V29.40" fill="none" stroke="#e09a35" stroke-width="0.8"/>
<path d="M210.50,125.20V127.60M236.60,147.20V149.60" fill="none" stroke="#5b2c7a" stroke-width="0.8"/>
<path d="M67.7,28.2H69.5" stroke="#bdbcc3" stroke-width="1.35" fill="none"/>
<text x="47.75" y="202.30" font-size="6.1" text-anchor="start" stroke="#111" stroke-width="0.1" textLength="38.6" lengthAdjust="spacingAndGlyphs">Number at risk</text>
<path d="M47.75,206.3V235.00M47.15,234.40H252.8" stroke="#111" stroke-width="1.2" fill="none"/>
<text x="57.30" y="246.00" font-size="6.0" text-anchor="middle" stroke="#111" stroke-width="0.1">0</text>
<text x="102.05" y="246.00" font-size="6.0" text-anchor="middle" stroke="#111" stroke-width="0.1">12</text>
<text x="146.80" y="246.00" font-size="6.0" text-anchor="middle" stroke="#111" stroke-width="0.1">24</text>
<text x="191.55" y="246.00" font-size="6.0" text-anchor="middle" stroke="#111" stroke-width="0.1">36</text>
<text x="236.30" y="246.00" font-size="6.0" text-anchor="middle" stroke="#111" stroke-width="0.1">48</text>
<path d="M57.30,234.40V237.20M102.05,234.40V237.20M146.80,234.40V237.20M191.55,234.40V237.20M236.30,234.40V237.20" stroke="#111" stroke-width="0.9" fill="none"/>
<text x="150.40" y="257.70" font-size="8.7" text-anchor="middle" stroke="#111" stroke-width="0.2" textLength="18.6" lengthAdjust="spacingAndGlyphs">Months</text>
<path d="M33,212.20H44.6" stroke="#c6c5cc" stroke-width="1.8" fill="none"/>
<text x="57.30" y="213.90" font-size="5.9" text-anchor="middle" stroke="#111" stroke-width="0.1">69</text>
<text x="102.05" y="213.90" font-size="5.9" text-anchor="middle" stroke="#111" stroke-width="0.1">65</text>
<text x="146.80" y="213.90" font-size="5.9" text-anchor="middle" stroke="#111" stroke-width="0.1">55</text>
<text x="191.55" y="213.90" font-size="5.9" text-anchor="middle" stroke="#111" stroke-width="0.1">39</text>
<text x="236.30" y="213.90" font-size="5.9" text-anchor="middle" stroke="#111" stroke-width="0.1">13</text>
<path d="M33,220.92H44.6" stroke="#e39a22" stroke-width="1.8" fill="none"/>
<text x="57.30" y="222.62" font-size="5.9" text-anchor="middle" stroke="#111" stroke-width="0.1">5</text>
<text x="102.05" y="222.62" font-size="5.9" text-anchor="middle" stroke="#111" stroke-width="0.1">5</text>
<text x="146.80" y="222.62" font-size="5.9" text-anchor="middle" stroke="#111" stroke-width="0.1">5</text>
<text x="191.55" y="222.62" font-size="5.9" text-anchor="middle" stroke="#111" stroke-width="0.1">2</text>
<text x="236.30" y="222.62" font-size="5.9" text-anchor="middle" stroke="#111" stroke-width="0.1">2</text>
<path d="M33,229.64H44.6" stroke="#4e2468" stroke-width="1.8" fill="none"/>
<text x="57.30" y="231.34" font-size="5.9" text-anchor="middle" stroke="#111" stroke-width="0.1">19</text>
<text x="102.05" y="231.34" font-size="5.9" text-anchor="middle" stroke="#111" stroke-width="0.1">17</text>
<text x="146.80" y="231.34" font-size="5.9" text-anchor="middle" stroke="#111" stroke-width="0.1">9</text>
<text x="191.55" y="231.34" font-size="5.9" text-anchor="middle" stroke="#111" stroke-width="0.1">6</text>
<text x="236.30" y="231.34" font-size="5.9" text-anchor="middle" stroke="#111" stroke-width="0.1">1</text>
<text transform="translate(28.50,220.30) rotate(-90)" font-size="8.8" text-anchor="middle" stroke="#111" stroke-width="0.3" textLength="15.8" lengthAdjust="spacingAndGlyphs">Strata</text>
</g>
<rect x="0.5" y="0.5" width="519" height="542" fill="none" stroke="#000" stroke-width="1.1"/>
</svg>
</body></html>
